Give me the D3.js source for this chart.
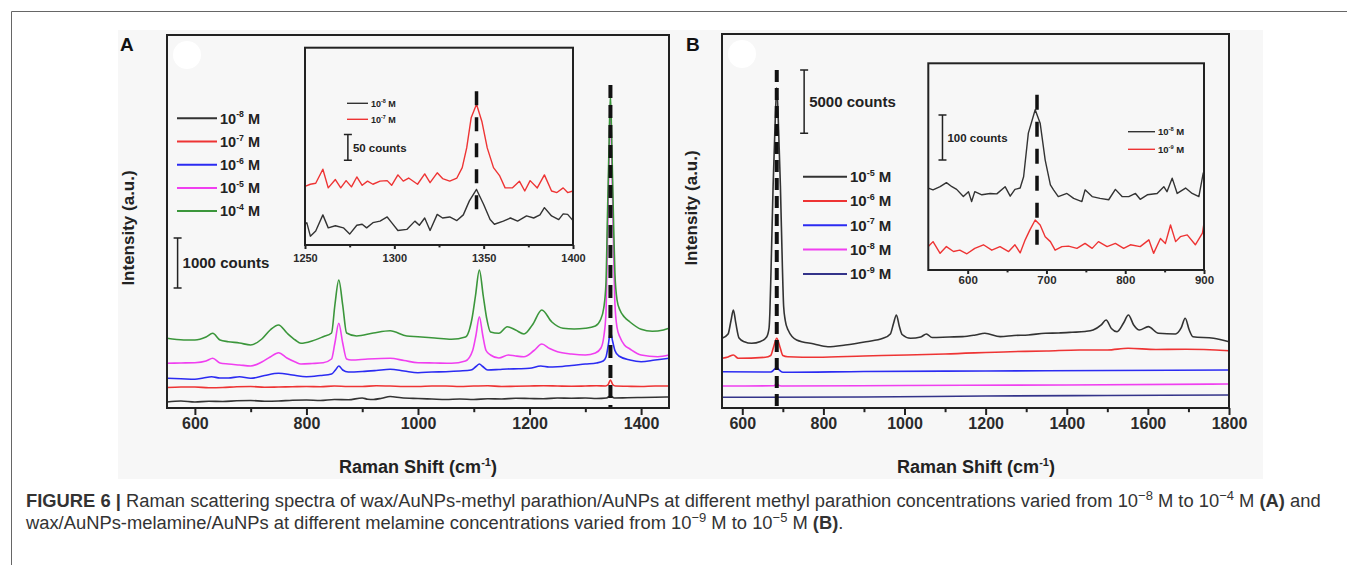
<!DOCTYPE html>
<html>
<head>
<meta charset="utf-8">
<script src="https://cdn.jsdelivr.net/npm/d3@7"></script>
<style>
  body { margin: 0; background: #fff; }
  svg { display: block; font-family: "Liberation Sans", Arial, sans-serif; }
</style>
</head>
<body>
<svg></svg>
<script>
/* ---------- data: panel A (methyl parathion), [Raman shift, counts] ---------- */
var concA = ["-8", "-7", "-6", "-5", "-4"];
var colorsA = ["#333333", "#ee3434", "#2b2bf2", "#f03ff0", "#3b963b"];

var specA8 = [[550,120],[575,140],[600,120],[625,135],[650,130],[675,145],[700,150],[725,135],[750,140],[775,155],[800,160],[825,150],[850,170],[875,165],[900,200],[910,175],[920,170],[935,195],[950,230],[970,205],[1000,190],[1025,180],[1050,170],[1075,180],[1100,170],[1125,185],[1150,180],[1175,195],[1200,190],[1225,185],[1250,200],[1275,195],[1300,200],[1320,190],[1338,200],[1345,240],[1352,200],[1375,205],[1400,210],[1425,215],[1450,220]];
var specA7 = [[550,410],[575,420],[600,420],[625,405],[650,410],[675,425],[700,430],[725,415],[750,420],[775,425],[800,430],[825,425],[850,440],[875,430],[900,430],[925,445],[950,440],[975,430],[1000,430],[1025,440],[1050,440],[1075,430],[1100,440],[1125,445],[1150,430],[1175,435],[1200,440],[1225,445],[1250,440],[1275,435],[1300,440],[1320,445],[1336,440],[1341,470],[1345,560],[1349,470],[1354,440],[1375,435],[1400,430],[1425,440],[1450,440]];
var specA6 = [[550,594],[575,585],[600,574],[615,600],[630,626],[645,600],[660,600],[680,626],[700,594],[725,650],[750,694],[775,660],[800,626],[825,650],[845,680],[852,760],[858,840],[865,760],[875,720],[900,730],[925,750],[950,774],[975,740],[1000,706],[1025,720],[1050,726],[1075,740],[1095,760],[1104,830],[1110,880],[1116,830],[1125,760],[1145,770],[1160,780],[1180,785],[1200,794],[1220,840],[1235,820],[1250,826],[1275,850],[1300,880],[1320,900],[1332,940],[1337,1020],[1341,1250],[1345,1526],[1349,1330],[1353,1150],[1360,1040],[1380,960],[1400,926],[1425,960],[1450,994]];
var specA5 = [[550,894],[575,900],[600,906],[620,940],[632,994],[645,900],[660,880],[680,860],[700,840],[720,920],[735,1020],[750,1106],[765,1000],[780,920],[790,880],[810,890],[830,906],[845,980],[851,1300],[858,1694],[865,1300],[872,980],[880,960],[910,980],[950,994],[975,950],[1000,906],[1030,900],[1060,894],[1085,940],[1098,1150],[1104,1460],[1110,1826],[1116,1460],[1122,1150],[1130,1060],[1145,1000],[1162,1060],[1175,1040],[1190,1026],[1208,1150],[1222,1280],[1236,1190],[1250,1126],[1275,1080],[1300,1060],[1318,1100],[1328,1200],[1333,1420],[1337,1900],[1339.5,3300],[1342,4700],[1345,6060],[1348,4700],[1350.5,3300],[1353,2100],[1357,1600],[1362,1420],[1370,1260],[1380,1180],[1400,1060],[1430,1026],[1450,1060]];
var specA4 = [[550,1394],[580,1360],[600,1360],[620,1420],[632,1494],[645,1360],[660,1326],[680,1300],[700,1260],[720,1380],[735,1560],[750,1660],[765,1500],[780,1360],[790,1294],[810,1340],[830,1426],[845,1500],[851,2060],[858,2560],[865,2060],[872,1500],[890,1440],[920,1500],[950,1546],[980,1440],[1000,1426],[1030,1400],[1060,1374],[1085,1420],[1097,1800],[1103,2240],[1110,2760],[1117,2240],[1123,1800],[1130,1520],[1145,1494],[1160,1626],[1175,1560],[1190,1480],[1205,1660],[1222,1960],[1240,1720],[1260,1594],[1280,1580],[1300,1594],[1318,1640],[1327,1760],[1333,2000],[1337,2500],[1339.5,3760],[1342,5000],[1345,6260],[1348,5000],[1350.5,3760],[1353,2700],[1357,2150],[1362,1960],[1370,1820],[1380,1720],[1400,1574],[1420,1534],[1440,1560],[1450,1594]];

/* inset A: 1250-1400 cm-1 zoom of the two lowest concentrations */
var insetConcA = ["-8", "-7"];
var insetA8 = [[1250,40],[1251,43],[1253,17],[1256,27],[1260,58],[1263,33],[1267,37],[1271.5,33],[1275,21],[1279,38],[1282,40],[1284.5,33],[1288,43],[1292,46],[1296,54],[1298.5,43],[1302,28],[1307,30],[1311.5,46],[1314,38],[1317,52],[1320,28],[1324,59],[1327,52],[1331,54],[1335,47],[1338.6,58],[1342,85],[1346,107],[1350,78],[1353.6,49],[1356,40],[1361,46],[1365,52],[1369,46],[1374,56],[1378,52],[1381.5,58],[1384,72],[1388,56],[1392,49],[1394.5,60],[1397,59],[1400,47]];
var insetA7 = [[1250,113],[1253,117],[1256,119],[1260,146],[1263,110],[1267,126],[1270,110],[1273,124],[1276,112],[1279,131],[1282,115],[1285,123],[1288,117],[1292,123],[1296,124],[1298.5,115],[1302,135],[1305,123],[1308,129],[1313,117],[1317,137],[1320,120],[1324,139],[1327,128],[1331,123],[1335,129],[1338,149],[1340.5,187],[1343,245],[1346,271],[1349,238],[1352,187],[1355.5,149],[1359,133],[1362,110],[1366,110],[1370,123],[1373,104],[1376,124],[1380,110],[1384,135],[1388,104],[1391,101],[1394.5,110],[1397,101],[1400,104]];

/* ---------- data: panel B (melamine) ---------- */
var concB = ["-5", "-6", "-7", "-8", "-9"];
var colorsB = ["#333333", "#ee3434", "#2b2bf2", "#f03ff0", "#34348a"];

var specB5 = [[550,5499],[565,5839],[572,6864],[578,7732],[584,6707],[592,5523],[605,5231],[623,5105],[645,5247],[660,5602],[666,6300],[668,7500],[671,11000],[676,17500],[680,21500],[685,25248],[690,21500],[694,17500],[699,11000],[702,8000],[706,6900],[713,6154],[734,5365],[777,5050],[811,4837],[854,4971],[905,5231],[947,5499],[965,5839],[973,6683],[980,7338],[987,6470],[994,5799],[1015,5499],[1040,5602],[1054,5839],[1068,5562],[1110,5602],[1143,5626],[1175,5760],[1198,5894],[1236,5626],[1270,5720],[1305,5760],[1347,5894],[1380,5918],[1413,5973],[1445,6036],[1465,6154],[1485,6549],[1497,6943],[1510,6273],[1524,6020],[1540,6707],[1552,7338],[1565,6549],[1579,6154],[1601,6415],[1626,5894],[1668,5839],[1682,6312],[1692,7077],[1702,6154],[1711,5626],[1762,5499],[1800,5231]];
var specB6 = [[550,3921],[565,4024],[578,4182],[590,3921],[657,4000],[670,4142],[677,4800],[685,5499],[693,4800],[700,4142],[712,4048],[785,4000],[900,4103],[1006,4182],[1100,4261],[1261,4442],[1350,4497],[1431,4576],[1500,4576],[1551,4710],[1620,4616],[1694,4631],[1800,4521]];
var specB7 = [[550,2864],[670,2840],[679,3038],[685,3211],[691,2998],[700,2817],[900,2880],[1200,2919],[1500,2959],[1800,2998]];
var specB8 = [[550,1736],[678,1752],[685,1894],[692,1752],[700,1736],[1000,1775],[1400,1815],[1800,1894]];
var specB9 = [[550,844],[900,868],[1200,947],[1500,986],[1800,1026]];

/* inset B: 550-900 cm-1 */
var insetConcB = ["-8", "-9"];
var insetB8 = [[550,182],[556,178],[565,185],[573,194],[580,185],[586,179],[594.5,163],[601,174],[605,152],[609,174],[618,167],[628.5,170],[637,169],[647.5,185],[654,164],[660,179],[666.6,182],[671,207],[677,304],[685.7,356],[692,326],[698.4,244],[705,189],[709,178],[715,163],[726,170],[734.5,159],[745,152],[749,178],[758,163],[768,159],[779,156],[787.5,179],[796,163],[804.5,163],[813,170],[819,157],[828,167],[840.5,170],[849,185],[853,174],[859.6,204],[866,170],[876.6,182],[885,170],[893.5,163],[899,215],[900,218]];
var insetB9 = [[550,52],[556,63],[565,37],[573,52],[582,41],[590,44],[599,36],[609,48],[620,56],[630.6,44],[641,52],[652,41],[660,56],[666.6,38],[673,67],[679,89],[685.7,111],[692,100],[698.4,74],[705,63],[711,44],[719.6,52],[728,53],[738.7,48],[749,59],[758,48],[766,63],[777,52],[787.5,59],[798,48],[806.6,56],[819,52],[830,67],[836,37],[844.7,70],[851,59],[857.5,100],[864,63],[870,74],[878.7,78],[889,56],[898,82],[900,104]];

/* axis ticks */
var ticksA = [600, 800, 1000, 1200, 1400], minorA = [700, 900, 1100, 1300];
var ticksB = [600, 800, 1000, 1200, 1400, 1600, 1800], minorB = [700, 900, 1100, 1300, 1500, 1700];
var ticksIA = [1250, 1300, 1350, 1400], minorIA = [1275, 1325, 1375];
var ticksIB = [600, 700, 800, 900], minorIB = [650, 750, 850];

/* ---------- drawing ---------- */
var width = 1347;
var height = 565;
var ink = "#222";
var svg = d3.select("svg").attr("width", width).attr("height", height);

// page frame and grey figure background
svg.append("rect").attr("x", 118).attr("y", 30).attr("width", 1145).attr("height", 449).attr("fill", "#f7f7f7");
svg.append("path").attr("d", "M11.5,565V11.5H1347").attr("fill", "none").attr("stroke", "#666").attr("stroke-width", 1);

// text with a 10^x exponent
var powText = function (g, x, y, exp, size, tail) {
  var t = g.append("text").attr("x", x).attr("y", y).attr("font-size", size)
    .attr("font-weight", "bold").attr("fill", ink);
  t.append("tspan").text("10");
  t.append("tspan").attr("dy", -size * 0.42).attr("font-size", size * 0.6).text(exp);
  t.append("tspan").attr("dy", size * 0.42).text(tail);
  return t;
};

var panel = function (o) {
  var x = d3.scaleLinear().domain(o.xDomain).range([o.left, o.right]);
  var y = d3.scaleLinear().domain(o.yDomain).range([o.bottom, o.top]);
  var g = svg.append("g");

  g.append("rect").attr("x", o.left).attr("y", o.top)
    .attr("width", o.right - o.left).attr("height", o.bottom - o.top)
    .attr("fill", "#f7f7f7");

  var line = d3.line().x((d) => x(d[0])).y((d) => y(d[1])).curve(o.curve);
  o.series.forEach((s, i) => {
    g.append("path").datum(s).attr("d", line).attr("fill", "none")
      .attr("stroke", o.colors[i]).attr("stroke-width", o.lw).attr("stroke-linejoin", "round");
  });

  /* dashed marker on the main band */
  g.append("line")
    .attr("x1", x(o.mark[0])).attr("x2", x(o.mark[0]))
    .attr("y1", y(o.mark[1])).attr("y2", y(o.mark[2]))
    .attr("stroke", "#111").attr("stroke-width", o.markW).attr("stroke-dasharray", o.dash);

  var major = d3.axisBottom(x).tickValues(o.ticks).tickSize(o.tick).tickPadding(o.pad).tickFormat(d3.format("d"));
  var minor = d3.axisBottom(x).tickValues(o.minor).tickSize(o.tick * 0.6).tickFormat("");
  [major, minor].forEach((a) => {
    var ga = g.append("g").attr("transform", "translate(0," + o.bottom + ")").call(a);
    ga.select(".domain").remove();
    ga.selectAll("line").attr("stroke", ink).attr("stroke-width", o.frameW);
    ga.selectAll("text").attr("font-size", o.fs).attr("font-weight", "bold")
      .attr("fill", "#2a2a2a").attr("font-family", "Liberation Sans, Arial, sans-serif");
  });

  g.append("rect").attr("x", o.left).attr("y", o.top)
    .attr("width", o.right - o.left).attr("height", o.bottom - o.top)
    .attr("fill", "none").attr("stroke", ink).attr("stroke-width", o.frameW);

  return { x: x, y: y, g: g };
};

var scaleBar = function (p, xv, y0, y1, label, size) {
  var xp = p.x(xv);
  var a = p.y(y0), b = p.y(y1);
  p.g.append("path").attr("d", "M" + (xp - 4) + "," + a + "H" + (xp + 4) + "M" + xp + "," + a + "V" + b + "M" + (xp - 4) + "," + b + "H" + (xp + 4))
    .attr("fill", "none").attr("stroke", ink).attr("stroke-width", 1.5);
  p.g.append("text").attr("x", xp + 5).attr("y", (a + b) / 2 + size * 0.36)
    .attr("font-size", size).attr("font-weight", "bold").attr("fill", ink).text(label);
};

var legend = function (g, x0, x1, y0, step, labels, colors, size, lw) {
  labels.forEach((l, i) => {
    var yy = y0 + i * step;
    g.append("line").attr("x1", x0).attr("x2", x1).attr("y1", yy).attr("y2", yy)
      .attr("stroke", colors[i]).attr("stroke-width", lw);
    powText(g, x1 + 3, yy + size * 0.36, l, size, " M");
  });
};

var axisTitle = function (cx, cy) {
  var t = svg.append("text").attr("x", cx).attr("y", cy).attr("text-anchor", "middle")
    .attr("font-size", 18).attr("font-weight", "bold").attr("fill", ink);
  t.append("tspan").text("Raman Shift (cm");
  t.append("tspan").attr("dy", -7).attr("font-size", 11).text("-1");
  t.append("tspan").attr("dy", 7).text(")");
};

var yTitle = function (cx, cy) {
  svg.append("text").attr("transform", "translate(" + cx + "," + cy + ") rotate(-90)")
    .attr("text-anchor", "middle").attr("font-size", 17).attr("font-weight", "bold")
    .attr("fill", ink).text("Intensity (a.u.)");
};

/* panel A */
var pA = panel({
  left: 167, right: 669, top: 35, bottom: 408,
  xDomain: [550, 1450], yDomain: [0, 7460],
  series: [specA8, specA7, specA6, specA5, specA4], colors: colorsA,
  curve: d3.curveMonotoneX, lw: 1.6,
  mark: [1345, 6460, 0], markW: 4, dash: "13,7",
  ticks: ticksA, minor: minorA, tick: 7, pad: 3, fs: 16, frameW: 2
});
pA.g.append("circle").attr("cx", 187).attr("cy", 55).attr("r", 14).attr("fill", "#fff");
legend(pA.g, 177, 217, 118.3, 23.2, concA, colorsA, 14.5, 2);
scaleBar(pA, 569, 3400, 2400, "1000 counts", 15);

var iA = panel({
  left: 305, right: 573, top: 47.7, bottom: 245,
  xDomain: [1250, 1400], yDomain: [0, 380],
  series: [insetA8, insetA7], colors: [colorsA[0], colorsA[1]],
  curve: d3.curveLinear, lw: 1.4,
  mark: [1346, 296, 62], markW: 3.5, dash: "14,12",
  ticks: ticksIA, minor: minorIA, tick: 4, pad: 5, fs: 11, frameW: 2
});
legend(iA.g, 347, 368, 103.3, 16, insetConcA, colorsA, 9, 1.4);
scaleBar(iA, 1274, 213, 163, "50 counts", 11.5);

/* panel B */
var pB = panel({
  left: 722, right: 1229, top: 34, bottom: 408,
  xDomain: [550, 1800], yDomain: [0, 29500],
  series: [specB5, specB6, specB7, specB8, specB9], colors: colorsB,
  curve: d3.curveMonotoneX, lw: 1.6,
  mark: [685, 26668, 0], markW: 4, dash: "12,6",
  ticks: ticksB, minor: minorB, tick: 7, pad: 3, fs: 16, frameW: 2
});
pB.g.append("circle").attr("cx", 742).attr("cy", 54).attr("r", 14).attr("fill", "#fff");
legend(pB.g, 803, 847, 176.7, 24.3, concB, colorsB, 15, 2);
scaleBar(pB, 752.5, 26668, 21673, "5000 counts", 15);

var iB = panel({
  left: 928.3, right: 1204, top: 63.3, bottom: 270,
  xDomain: [550, 900], yDomain: [0, 459],
  series: [insetB8, insetB9], colors: [colorsB[0], colorsB[1]],
  curve: d3.curveLinear, lw: 1.4,
  mark: [688, 389, 44], markW: 3.5, dash: "15,12",
  ticks: ticksIB, minor: minorIB, tick: 4, pad: 2, fs: 11.5, frameW: 2
});
legend(iB.g, 1128, 1155, 131.7, 17.6, insetConcB, colorsB, 9.5, 1.4);
scaleBar(iB, 568, 344, 244, "100 counts", 11.5);

/* titles */
svg.append("text").attr("x", 120).attr("y", 51).attr("font-size", 19).attr("font-weight", "bold").attr("fill", "#111").text("A");
svg.append("text").attr("x", 686).attr("y", 51).attr("font-size", 19).attr("font-weight", "bold").attr("fill", "#111").text("B");
axisTitle(418, 473);
axisTitle(976, 473);
yTitle(134, 228);
yTitle(697, 208);

/* caption */
var cap = svg.append("g").attr("font-size", 18.35).attr("fill", "#333");
var l1 = cap.append("text").attr("x", 26).attr("y", 507);
l1.append("tspan").attr("font-weight", "bold").text("FIGURE 6 | ");
l1.append("tspan").text("Raman scattering spectra of wax/AuNPs-methyl parathion/AuNPs at different methyl parathion concentrations varied from 10");
l1.append("tspan").attr("dy", -7).attr("font-size", 13).text("\u22128");
l1.append("tspan").attr("dy", 7).text(" M to 10");
l1.append("tspan").attr("dy", -7).attr("font-size", 13).text("\u22124");
l1.append("tspan").attr("dy", 7).text(" M ");
l1.append("tspan").attr("font-weight", "bold").text("(A)");
l1.append("tspan").text(" and");
var l2 = cap.append("text").attr("x", 26).attr("y", 529);
l2.append("tspan").text("wax/AuNPs-melamine/AuNPs at different melamine concentrations varied from 10");
l2.append("tspan").attr("dy", -7).attr("font-size", 13).text("\u22129");
l2.append("tspan").attr("dy", 7).text(" M to 10");
l2.append("tspan").attr("dy", -7).attr("font-size", 13).text("\u22125");
l2.append("tspan").attr("dy", 7).text(" M ");
l2.append("tspan").attr("font-weight", "bold").text("(B)");
l2.append("tspan").text(".");
</script>
</body>
</html>
